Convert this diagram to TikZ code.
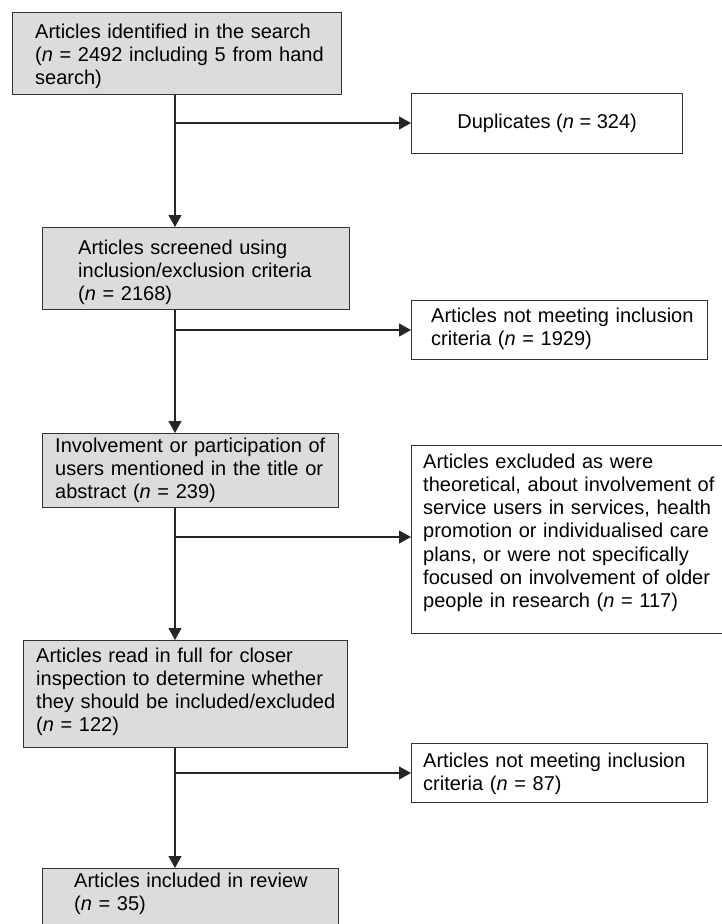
\documentclass[tikz,border=0pt]{standalone}
\usepackage{fontspec}
\setmainfont{Liberation Sans}
\usetikzlibrary{arrows.meta}
\usetikzlibrary{positioning}
\definecolor{boxgray}{RGB}{220,220,220}
\newcommand{\boxfont}{\fontsize{20}{23.3}\selectfont}

\begin{document}
\begin{tikzpicture}[x=1pt, y=-1pt]
  \tikzset{
    >={Triangle[length=12pt,width=13pt]},
    box/.style={draw=black!80, line width=1.2pt, anchor=north west, inner sep=0pt},
    grey box/.style={box, fill=boxgray},
    box text/.style={anchor=base west, inner sep=0pt, text width=330pt, align=left, font=\boxfont},
    flow/.style={->, draw=black!85, line width=1.1pt},
  }
  \useasboundingbox (0,0) rectangle (722,924);
  \clip (0,0) rectangle (722,924);

  % main column
  \node[grey box, minimum width=329, minimum height=82] (search) at (12,12) {};
  \node[grey box, minimum width=307, minimum height=82] (screened) at (42,227) {};
  \node[grey box, minimum width=296, minimum height=74] (involved) at (42,433) {};
  \node[grey box, minimum width=324, minimum height=107] (fulltext) at (23,640) {};
  \node[grey box, minimum width=296, minimum height=62] (included) at (42,868) {};

  % excluded column
  \node[box, minimum width=271, minimum height=60, font=\boxfont] (dups) at (411,93) {Duplicates (\textit{n} = 324)};
  \node[box, minimum width=296, minimum height=59] (notmet1) at (411,300) {};
  \node[box, minimum width=313, minimum height=188] (excluded) at (411,445) {};
  \node[box, minimum width=296, minimum height=59] (notmet2) at (411,743) {};

  % texts
  \node[box text] (t-search) at (35,38) {Articles identified in the search\\(\textit{n} = 2492 including 5 from hand\\search)};
  \node[box text] (t-screened) at (78,254) {Articles screened using\\inclusion/exclusion criteria\\(\textit{n} = 2168)};
  \node[box text] (t-involved) at (55,452) {Involvement or participation of\\users mentioned in the title or\\abstract (\textit{n} = 239)};
  \node[box text] (t-fulltext) at (36,662) {Articles read in full for closer\\inspection to determine whether\\they should be included/excluded\\(\textit{n} = 122)};
  \node[box text] (t-included) at (74,887) {Articles included in review\\(\textit{n} = 35)};
  \node[box text] (t-notmet1) at (431,322) {Articles not meeting inclusion\\criteria (\textit{n} = 1929)};
  \node[box text] (t-excluded) at (423,468) {Articles excluded as were\\theoretical, about involvement of\\service users in services, health\\promotion or individualised care\\plans, or were not specifically\\focused on involvement of older\\people in research (\textit{n} = 117)};
  \node[box text] (t-notmet2) at (423,767) {Articles not meeting inclusion\\criteria (\textit{n} = 87)};

  % branch points
  \coordinate (b1) at (175,123);
  \coordinate (b2) at (175,330);
  \coordinate (b3) at (175,537);
  \coordinate (b4) at (175,773);

  \draw[flow] (search.south -| b1) -- (screened.north -| b1);
  \draw[flow] (screened.south -| b2) -- (involved.north -| b2);
  \draw[flow] (involved.south -| b3) -- (fulltext.north -| b3);
  \draw[flow] (fulltext.south -| b4) -- (included.north -| b4);

  \draw[flow] (b1) -- (dups.west |- b1);
  \draw[flow] (b2) -- (notmet1.west |- b2);
  \draw[flow] (b3) -- (excluded.west |- b3);
  \draw[flow] (b4) -- (notmet2.west |- b4);
\end{tikzpicture}
\end{document}
